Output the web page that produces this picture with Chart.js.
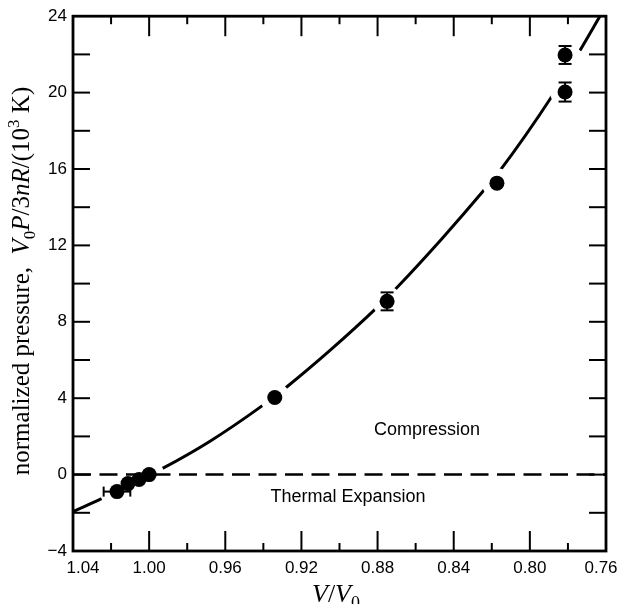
<!DOCTYPE html>
<html lang="en">
<head>
  <meta charset="UTF-8" />
  <title>Normalized pressure vs V/V0</title>
  <script src="https://cdn.jsdelivr.net/npm/chart.js"></script>
  <style>
    body { margin: 0; background: #fff; }
    #wrap { width: 622px; height: 604px; }
  </style>
</head>
<body>
  <div id="wrap"><canvas id="pressureChart" width="622" height="604"></canvas></div>

  <script>
    // measured points (V/V0, normalized pressure) with error bars
    const volume = [1.0169, 1.0111, 1.0053, 1.000, 0.934, 0.875, 0.8173, 0.7815, 0.7815];
    const pressure = [-0.89, -0.47, -0.26, 0.0, 4.04, 9.07, 15.26, 20.03, 21.97];
    const volumeErr = [0.007, 0, 0, 0, 0, 0, 0, 0, 0];
    const pressureErr = [0, 0, 0, 0, 0, 0.47, 0, 0.5, 0.47];

    // fitted curve
    const curveVolume = [1.04, 1.025, 0.9932, 0.968, 0.9418, 0.9276, 0.905, 0.8808, 0.8693, 0.8462, 0.8236, 0.8162, 0.7878, 0.7737, 0.7632];
    const curvePressure = [-1.94, -1.26, 0.31, 1.75, 3.52, 4.6, 6.5, 8.7, 9.85, 12.35, 14.95, 15.85, 19.9, 22.2, 24.0];
    const curveGaps = [1, 12]; // segments left blank in the figure

    // axes
    const xTickValues = [1.04, 1.00, 0.96, 0.92, 0.88, 0.84, 0.80, 0.76];
    const xMinorValues = [1.02, 0.98, 0.94, 0.90, 0.86, 0.82, 0.78];
    const yTickValues = [-4, 0, 4, 8, 12, 16, 20, 24];
    const yMinorValues = [-2, 2, 6, 10, 14, 18, 22];

    const SERIF = '"Liberation Serif", "DejaVu Serif", serif';
    const SANS = '"Liberation Sans", Arial, sans-serif';

    function drawRich(ctx, parts, cx, baseY) {
      let w = 0;
      parts.forEach(p => { ctx.font = p[1]; w += ctx.measureText(p[0]).width; });
      let x = cx - w / 2;
      parts.forEach(p => {
        ctx.font = p[1];
        ctx.fillText(p[0], x, baseY + (p[2] || 0));
        x += ctx.measureText(p[0]).width;
      });
    }

    const decorations = {
      id: "decorations",
      afterDatasetsDraw(chart) {
        const { ctx, scales: { x, y } } = chart;
        ctx.save();
        ctx.strokeStyle = "#000";
        ctx.lineWidth = 2;
        const seg = (x1, y1, x2, y2) => { ctx.beginPath(); ctx.moveTo(x1, y1); ctx.lineTo(x2, y2); ctx.stroke(); };
        volume.forEach((v, i) => {
          const px = x.getPixelForValue(v);
          const py = y.getPixelForValue(pressure[i]);
          if (pressureErr[i]) {
            const t = y.getPixelForValue(pressure[i] + pressureErr[i]);
            const b = y.getPixelForValue(pressure[i] - pressureErr[i]);
            seg(px, t, px, b);
            seg(px - 6.5, t, px + 6.5, t);
            seg(px - 6.5, b, px + 6.5, b);
          }
          if (volumeErr[i]) {
            const l = x.getPixelForValue(v + volumeErr[i]);
            const r = x.getPixelForValue(v - volumeErr[i]);
            seg(l, py, r, py);
            seg(l, py - 5, l, py + 5);
            seg(r, py - 5, r, py + 5);
          }
        });
        ctx.restore();
      },
      afterDraw(chart) {
        const { ctx, chartArea: a, scales: { x, y } } = chart;
        ctx.save();
        ctx.strokeStyle = "#000";
        ctx.lineWidth = 2.8;
        ctx.strokeRect(a.left, a.top, a.right - a.left, a.bottom - a.top);

        // inward ticks on all four sides
        ctx.lineWidth = 2;
        const seg = (x1, y1, x2, y2) => { ctx.beginPath(); ctx.moveTo(x1, y1); ctx.lineTo(x2, y2); ctx.stroke(); };
        yTickValues.concat(yMinorValues).forEach(v => {
          const py = y.getPixelForValue(v);
          if (py <= a.top + 1 || py >= a.bottom - 1) return;
          seg(a.left, py, a.left + 17, py);
          seg(a.right, py, a.right - 17, py);
        });
        xTickValues.forEach(v => {
          const px = x.getPixelForValue(v);
          if (px <= a.left + 1 || px >= a.right - 1) return;
          seg(px, a.bottom, px, a.bottom - 20);
          seg(px, a.top, px, a.top + 20);
        });
        xMinorValues.forEach(v => {
          const px = x.getPixelForValue(v);
          seg(px, a.bottom, px, a.bottom - 8);
          seg(px, a.top, px, a.top + 8);
        });

        ctx.fillStyle = "#000";
        ctx.textAlign = "center";
        ctx.textBaseline = "middle";

        // x tick labels (end labels pulled inward as in the figure)
        ctx.font = "17px " + SANS;
        xTickValues.forEach((v, i) => {
          let px = x.getPixelForValue(v);
          if (i === 0) px += 10;
          if (i === xTickValues.length - 1) px -= 5;
          ctx.fillText(v.toFixed(2), px, a.bottom + 17);
        });

        // region labels
        ctx.font = "18px " + SANS;
        ctx.fillText("Compression", 427, 430);
        ctx.fillText("Thermal Expansion", 348, 497);

        // axis titles
        ctx.textAlign = "left";
        ctx.textBaseline = "alphabetic";
        const R25 = "25px " + SERIF, I25 = "italic 25px " + SERIF, S17 = "17px " + SERIF;
        drawRich(ctx, [["V", "italic 26px " + SERIF], ["/", "26px " + SERIF], ["V", "italic 26px " + SERIF], ["0", "18px " + SERIF, 7]], 336, 602);

        ctx.translate(29, 281);
        ctx.rotate(-Math.PI / 2);
        drawRich(ctx, [
          ["normalized pressure,  ", R25],
          ["V", I25], ["0", S17, 6], ["P", I25],
          ["/3", R25], ["nR", I25], ["/(10", R25],
          ["3", S17, -10], [" K)", R25]
        ], 0, 0);
        ctx.restore();
      }
    };

    const ctx = document.getElementById("pressureChart").getContext("2d");

    const pressureChart = new Chart(ctx, {
      type: "scatter",
      data: {
        datasets: [
          {
            label: "data",
            data: volume.map((v, i) => ({ x: v, y: pressure[i] })),
            pointRadius: 7.5,
            backgroundColor: "#000",
            borderWidth: 0,
            order: 0,
          },
          {
            label: "zero",
            data: [{ x: 1.04, y: 0 }, { x: 0.76, y: 0 }],
            showLine: true,
            pointRadius: 0,
            borderColor: "#000",
            borderWidth: 2.5,
            borderDash: [18, 8.5],
            order: 1,
          },
          {
            label: "halo",
            data: volume.map((v, i) => ({ x: v, y: pressure[i] })),
            pointRadius: 15,
            backgroundColor: "#fff",
            borderWidth: 0,
            order: 2,
          },
          {
            label: "fit",
            data: curveVolume.map((v, i) => ({ x: v, y: curvePressure[i] })),
            showLine: true,
            pointRadius: 0,
            borderColor: "#000",
            borderWidth: 3,
            cubicInterpolationMode: "monotone",
            segment: {
              borderColor: c => curveGaps.includes(c.p0DataIndex) ? "rgba(0,0,0,0)" : "#000",
            },
            order: 3,
          },
        ],
      },
      options: {
        responsive: false,
        animation: false,
        events: [],
        layout: { padding: { left: 0, top: 16, right: 16, bottom: 0 } },
        plugins: {
          legend: { display: false },
          tooltip: { enabled: false },
        },
        scales: {
          x: {
            type: "linear",
            reverse: true,
            min: 0.76,
            max: 1.04,
            afterBuildTicks: s => { s.ticks = xTickValues.map(v => ({ value: v })); },
            afterFit: s => { s.height = 53; },
            grid: { display: false, drawTicks: false },
            border: { display: false },
            ticks: { display: false },
          },
          y: {
            type: "linear",
            min: -4,
            max: 24,
            afterBuildTicks: s => { s.ticks = yTickValues.map(v => ({ value: v })); },
            afterFit: s => { s.width = 73; },
            grid: { display: false, drawTicks: false },
            border: { display: false },
            ticks: {
              color: "#000",
              padding: 6,
              font: { family: SANS, size: 17 },
              callback: v => (v < 0 ? "\u2212" + Math.abs(v) : String(v)),
            },
          },
        },
      },
      plugins: [decorations],
    });
  </script>
</body>
</html>
